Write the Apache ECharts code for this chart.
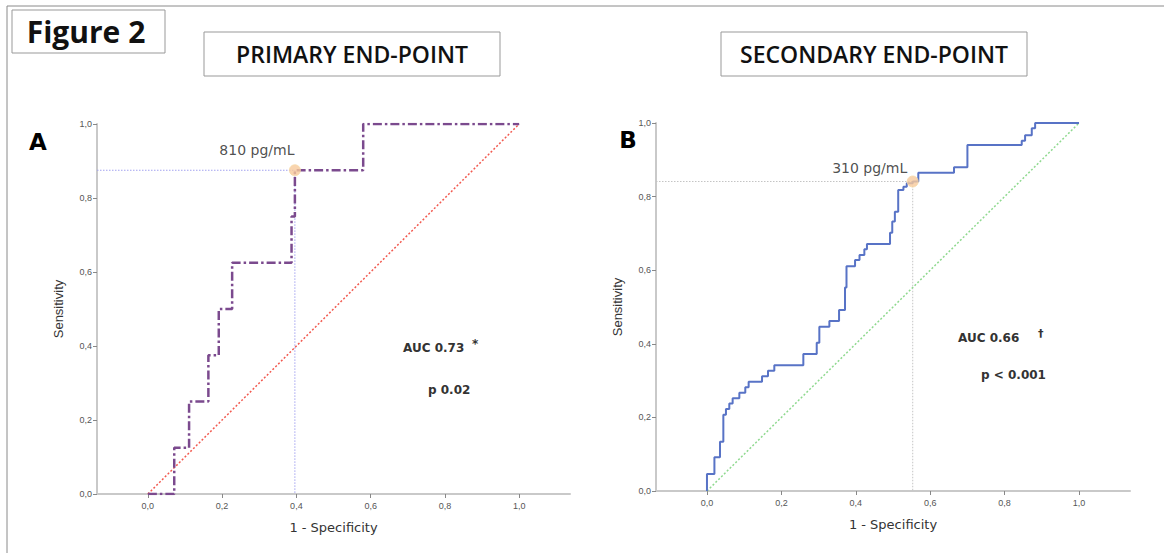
<!DOCTYPE html>
<html>
<head>
<meta charset="utf-8">
<script src="https://cdn.jsdelivr.net/npm/echarts@6/dist/echarts.min.js"></script>
<style>
html,body{margin:0;padding:0;background:#fff;}
#chart{width:1164px;height:553px;}
</style>
</head>
<body>
<div id="chart"></div>
<script>
// ---------- data ----------
const tickValues = [0, 0.2, 0.4, 0.6, 0.8, 1.0];
const tickLabels = ['0,0', '0,2', '0,4', '0,6', '0,8', '1,0'];

// Panel A – primary end-point ROC (corner points, step after)
const fprA = [0, 0.071, 0.111, 0.163, 0.191, 0.227, 0.387, 0.396, 0.580, 1.0];
const tprA = [0, 0.125, 0.250, 0.375, 0.500, 0.625, 0.750, 0.875, 1.000, 1.0];
const cutA = {x: 0.396, y: 0.875, label: '810 pg/mL'};

// Panel B – secondary end-point ROC
const fprB = [0, 0, 0.020, 0.035, 0.044, 0.051, 0.060, 0.069, 0.087, 0.103, 0.112, 0.148, 0.164, 0.181,
  0.259, 0.295, 0.302, 0.329, 0.355, 0.371, 0.375, 0.398, 0.410, 0.423, 0.430, 0.492, 0.498, 0.505,
  0.514, 0.528, 0.537, 0.553, 0.568, 0.664, 0.700, 0.846, 0.855, 0.873, 0.882, 1.0];
const tprB = [0, 0.046, 0.092, 0.134, 0.207, 0.223, 0.238, 0.252, 0.267, 0.282, 0.297, 0.312, 0.327, 0.342,
  0.372, 0.403, 0.446, 0.462, 0.492, 0.553, 0.611, 0.628, 0.641, 0.657, 0.671, 0.702, 0.732, 0.759,
  0.818, 0.827, 0.836, 0.841, 0.865, 0.880, 0.940, 0.952, 0.967, 0.986, 1.000, 1.0];
const cutB = {x: 0.553, y: 0.841, label: '310 pg/mL'};

const diagonal = [[0, 0], [1, 1]];
const xRange = [-0.137, 1.137];

const titles = ['PRIMARY END-POINT', 'SECONDARY END-POINT'];
const figTitle = 'Figure 2';
const statsA = ['AUC 0.73', '*', 'p 0.02'];
const statsB = ['AUC 0.66', '\u2020', 'p < 0.001'];

// ---------- build ----------
const zip = (xs, ys) => xs.map((x, i) => [x, ys[i]]);
const fmt = v => tickLabels[tickValues.findIndex(t => Math.abs(t - v) < 1e-6)] || '';

function xAxis(gi) {
  return {
    type: 'value', gridIndex: gi, min: xRange[0], max: xRange[1],
    name: '1 - Specificity', nameLocation: 'middle', nameGap: 27,
    nameTextStyle: {fontFamily: 'DejaVu Sans', fontSize: 13, color: '#333'},
    axisLine: {show: true, onZero: false, lineStyle: {color: '#c9c9c9', width: 2}},
    splitLine: {show: false},
    axisTick: {show: true, length: 4, customValues: tickValues, lineStyle: {color: '#888'}},
    axisLabel: {customValues: tickValues, formatter: fmt, margin: 7,
      fontFamily: 'Liberation Sans', fontSize: 9, color: '#555'}
  };
}
function yAxis(gi) {
  return {
    type: 'value', gridIndex: gi, min: 0, max: 1, interval: 0.2,
    name: 'Sensitivity', nameLocation: 'middle', nameGap: 32,
    nameTextStyle: {fontFamily: 'Liberation Sans', fontSize: 13, color: '#333'},
    axisLine: {show: true, onZero: false, lineStyle: {color: '#c9c9c9', width: 2}},
    splitLine: {show: false},
    axisTick: {show: true, length: 4, lineStyle: {color: '#888'}},
    axisLabel: {formatter: fmt, margin: 5, fontFamily: 'Liberation Sans', fontSize: 9, color: '#555'}
  };
}
function cutSeries(gi, cut, color) {
  return {
    type: 'line', xAxisIndex: gi, yAxisIndex: gi, symbol: 'none', silent: true,
    data: [[xRange[0], cut.y], [cut.x, cut.y], [cut.x, 0]],
    lineStyle: {color: color, width: 1, type: [1.5, 1.5]}, z: 1
  };
}
function markerSeries(gi, cut, off) {
  return {
    type: 'scatter', xAxisIndex: gi, yAxisIndex: gi, symbol: 'circle', symbolSize: 11,
    data: [[cut.x, cut.y]],
    itemStyle: {color: '#f7c99b', borderColor: '#f6d9a8', borderWidth: 1},
    label: {show: true, position: 'top', offset: off, formatter: cut.label,
      fontFamily: 'DejaVu Sans', fontSize: 14, color: '#222'},
    z: 10
  };
}

const option = {
  animation: false,
  backgroundColor: '#fff',
  grid: [
    {left: 97, right: 594, top: 124, bottom: 59},
    {left: 656, right: 34, top: 123, bottom: 62}
  ],
  xAxis: [xAxis(0), xAxis(1)],
  yAxis: [yAxis(0), yAxis(1)],
  series: [
    {type: 'line', xAxisIndex: 0, yAxisIndex: 0, symbol: 'none', data: diagonal,
      lineStyle: {color: '#f25a50', width: 1.5, type: [2, 2]}, z: 2},
    cutSeries(0, cutA, '#a3a3f0'),
    {type: 'line', xAxisIndex: 0, yAxisIndex: 0, symbol: 'none', step: 'end', data: zip(fprA, tprA),
      lineStyle: {color: '#7b4a8e', width: 2.5, type: [9, 3, 2.5, 3]}, z: 5},
    markerSeries(0, cutA, [-38, -2]),

    {type: 'line', xAxisIndex: 1, yAxisIndex: 1, symbol: 'none', data: diagonal,
      lineStyle: {color: '#8fd98f', width: 1.5, type: [2, 2]}, z: 2},
    cutSeries(1, cutB, '#c4c4c4'),
    {type: 'line', xAxisIndex: 1, yAxisIndex: 1, symbol: 'none', step: 'end', data: zip(fprB, tprB),
      lineStyle: {color: '#5873c6', width: 2}, z: 5},
    markerSeries(1, cutB, [-43, 4])
  ],
  graphic: [
    {type: 'rect', shape: {x: 7, y: 6, width: 1200, height: 600}, silent: true,
      style: {fill: 'none', stroke: '#8a8a8a', lineWidth: 1}, z: -10},
    {type: 'rect', shape: {x: 12, y: 10, width: 153, height: 43},
      style: {fill: '#fff', stroke: '#999', lineWidth: 1}},
    {type: 'text', x: 86, y: 31, style: {text: figTitle, align: 'center', verticalAlign: 'middle',
      font: 'bold 30px "Open Sans"', fill: '#111'}},
    {type: 'rect', shape: {x: 204, y: 32, width: 296, height: 44},
      style: {fill: '#fff', stroke: '#999', lineWidth: 1}},
    {type: 'text', x: 352, y: 54, style: {text: titles[0], align: 'center', verticalAlign: 'middle',
      font: '600 23px "Open Sans"', fill: '#111'}},
    {type: 'rect', shape: {x: 721, y: 32, width: 306, height: 44},
      style: {fill: '#fff', stroke: '#999', lineWidth: 1}},
    {type: 'text', x: 874, y: 54, style: {text: titles[1], align: 'center', verticalAlign: 'middle',
      font: '600 23px "Open Sans"', fill: '#111'}},
    {type: 'text', x: 38, y: 142, style: {text: 'A', align: 'center', verticalAlign: 'middle',
      font: 'bold 23px "DejaVu Sans"', fill: '#000'}},
    {type: 'text', x: 628, y: 140, style: {text: 'B', align: 'center', verticalAlign: 'middle',
      font: 'bold 23px "DejaVu Sans"', fill: '#000'}},
    {type: 'text', x: 403, y: 348, style: {text: statsA[0], align: 'left', verticalAlign: 'middle',
      font: 'bold 12px "DejaVu Sans"', fill: '#333'}},
    {type: 'text', x: 472, y: 344, style: {text: statsA[1], align: 'left', verticalAlign: 'middle',
      font: 'bold 12px "DejaVu Sans"', fill: '#333'}},
    {type: 'text', x: 428, y: 390, style: {text: statsA[2], align: 'left', verticalAlign: 'middle',
      font: 'bold 12px "DejaVu Sans"', fill: '#333'}},
    {type: 'text', x: 958, y: 338, style: {text: statsB[0], align: 'left', verticalAlign: 'middle',
      font: 'bold 12px "DejaVu Sans"', fill: '#333'}},
    {type: 'text', x: 1038, y: 333, style: {text: statsB[1], align: 'left', verticalAlign: 'middle',
      font: 'bold 11px "DejaVu Sans"', fill: '#333'}},
    {type: 'text', x: 981, y: 375, style: {text: statsB[2], align: 'left', verticalAlign: 'middle',
      font: 'bold 12px "DejaVu Sans"', fill: '#333'}}
  ]
};

const chart = echarts.init(document.getElementById('chart'), null, {renderer: 'svg'});
chart.setOption(option);
</script>
</body>
</html>
